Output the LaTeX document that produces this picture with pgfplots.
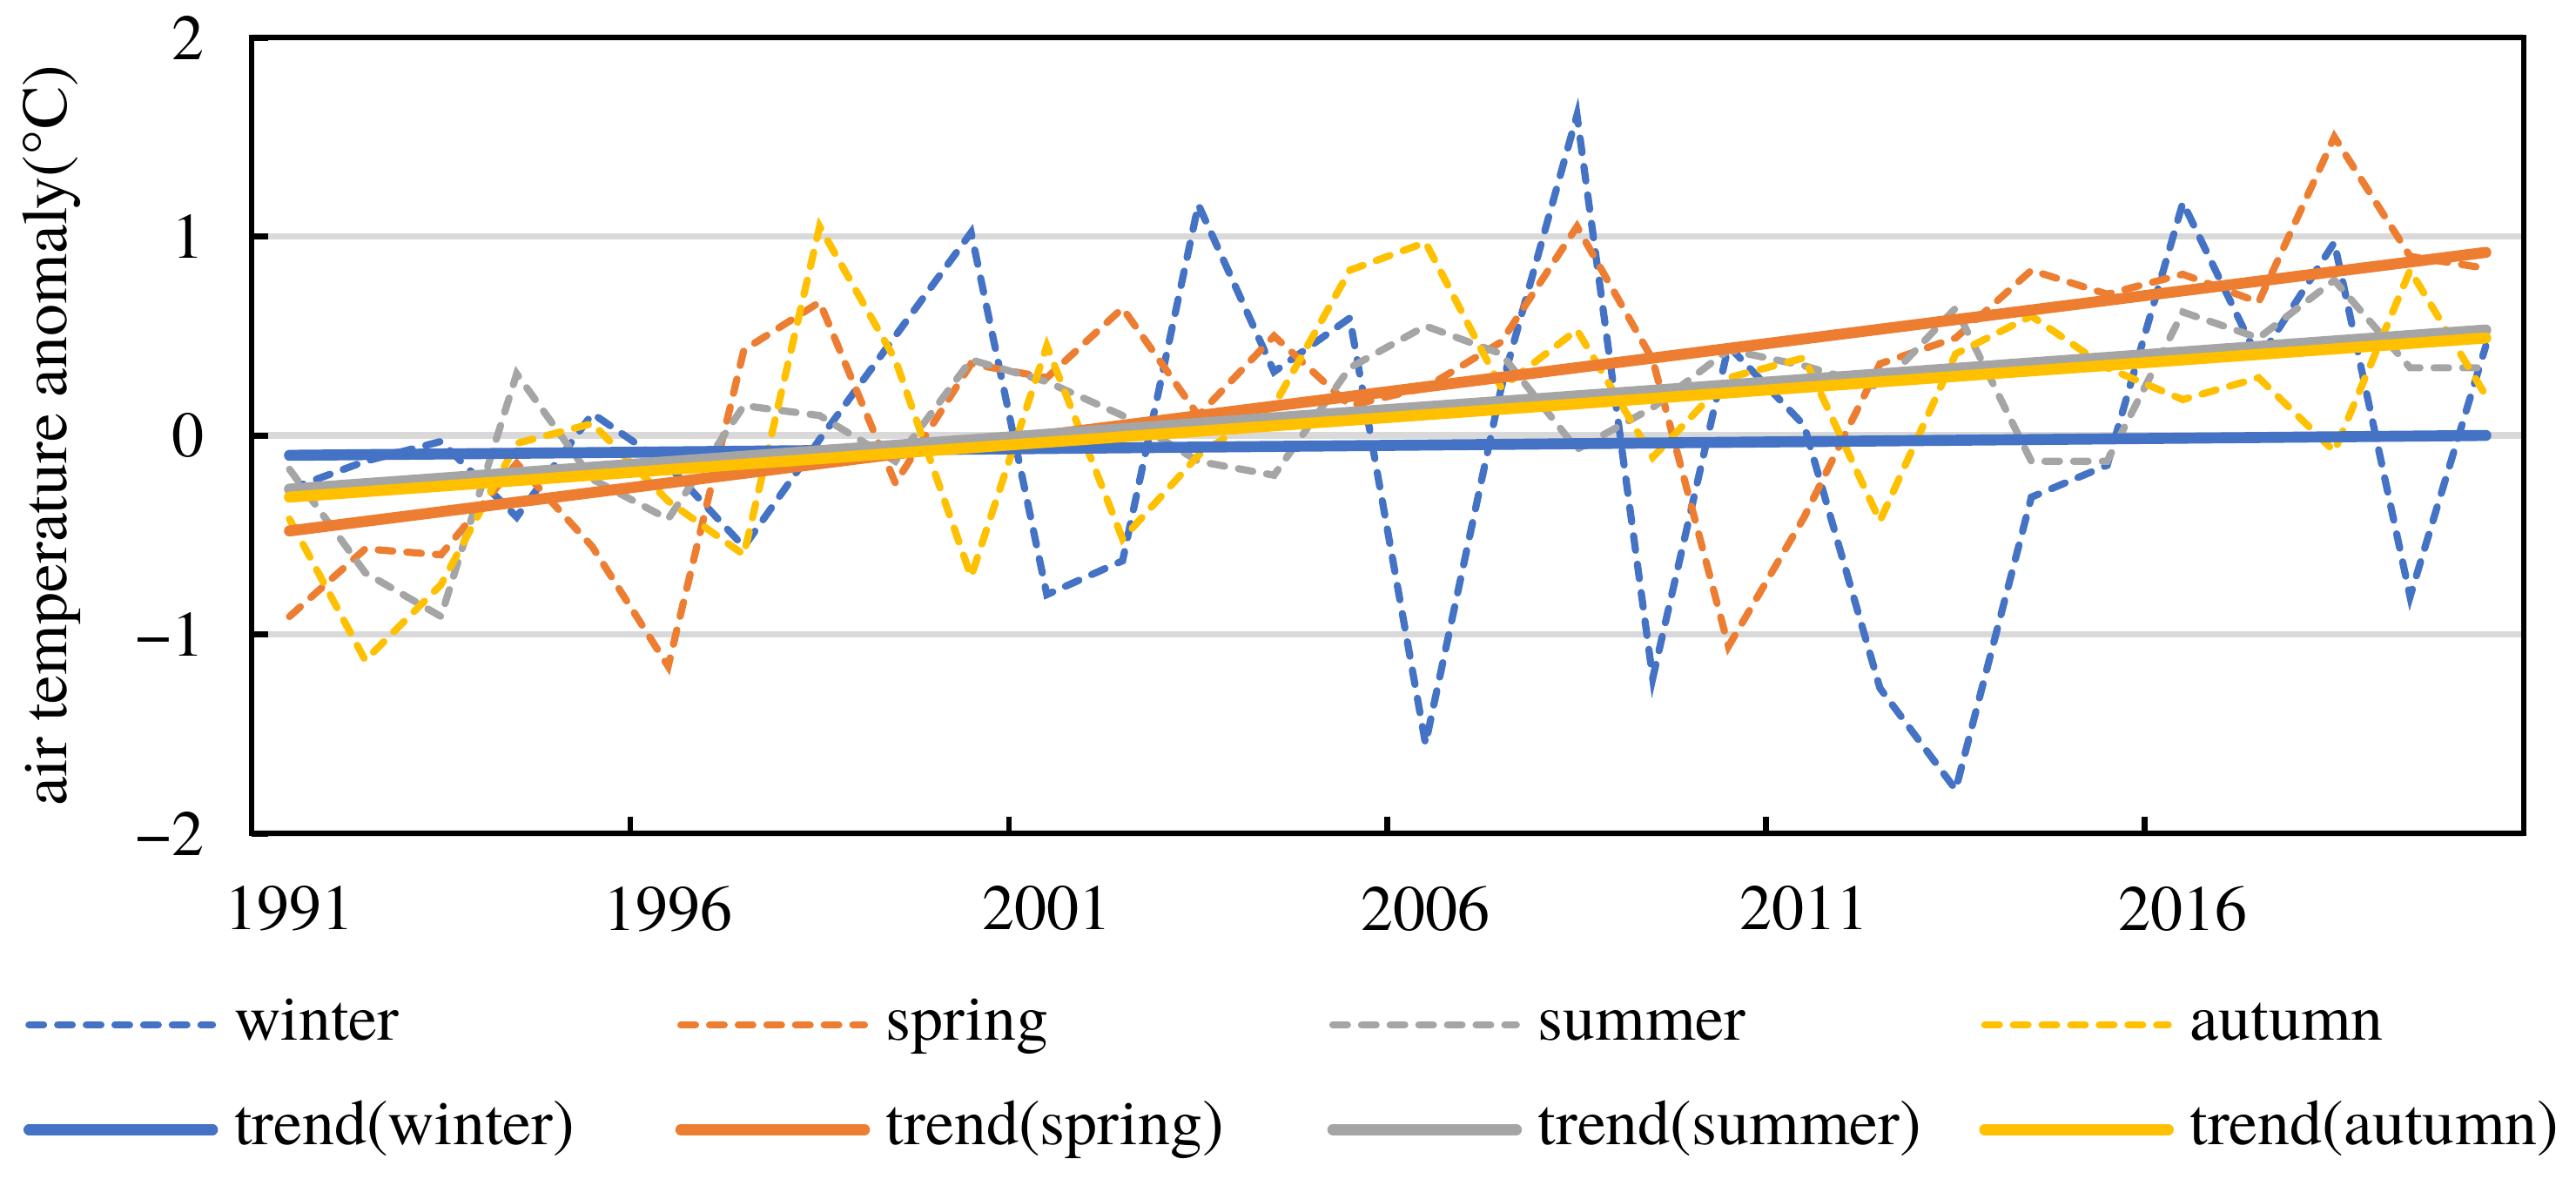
\documentclass[border=0pt]{standalone}
\usepackage{fontspec}
\setmainfont{texgyretermes}[Extension=.otf, UprightFont=*-regular, BoldFont=*-bold, ItalicFont=*-italic, BoldItalicFont=*-bolditalic]
\usepackage{pgfplots}
\usepackage{pgfplotstable}
\pgfplotsset{compat=1.18}

\definecolor{cwin}{HTML}{4472C4}
\definecolor{cspr}{HTML}{ED7D31}
\definecolor{csum}{HTML}{A5A5A5}
\definecolor{caut}{HTML}{FFC000}
\definecolor{cgrid}{HTML}{D9D9D9}

% seasonal air temperature anomaly (degC)
\pgfplotstableread{
year winter spring summer autumn
1991 -0.27 -0.91 -0.17 -0.42
1992 -0.13 -0.57 -0.69 -1.13
1993 -0.03 -0.60 -0.91 -0.75
1994 -0.41 -0.14  0.31 -0.04
1995  0.11 -0.56 -0.22  0.06
1996 -0.15 -1.16 -0.42 -0.33
1997 -0.56  0.43  0.15 -0.60
1998 -0.02  0.67  0.10  1.05
1999  0.50 -0.24 -0.13  0.38
2000  1.02  0.36  0.38 -0.71
2001 -0.80  0.29  0.27  0.45
2002 -0.63  0.64  0.10 -0.52
2003  1.16  0.10 -0.13 -0.10
2004  0.32  0.50 -0.20  0.15
2005  0.59  0.15  0.34  0.83
2006 -1.55  0.24  0.55  0.97
2007  0.24  0.47  0.41  0.24
2008  1.61  1.05 -0.07  0.53
2009 -1.22  0.38  0.14 -0.11
2010  0.45 -1.06  0.43  0.29
2011  0.05 -0.41  0.35  0.39
2012 -1.27  0.36  0.24 -0.43
2013 -1.78  0.49  0.64  0.41
2014 -0.31  0.83 -0.13  0.60
2015 -0.15  0.71 -0.13  0.34
2016  1.17  0.81  0.62  0.18
2017  0.38  0.67  0.49  0.29
2018  0.97  1.50  0.78 -0.08
2019 -0.81  0.90  0.34  0.83
2020  0.45  0.84  0.34  0.20
}\anom

\pgfplotsset{
    season/.style={line width=1.3pt, line cap=round, dash pattern=on 2.65pt off 2.55pt},
    trendline/.style={line width=2pt, line cap=round},
}

\newcommand{\lgd}[1]{\makebox[83pt][l]{\hspace{2.95pt}#1}}

\begin{document}
\fontsize{11.7}{14}\selectfont
\begin{tikzpicture}
    \begin{axis}[
        scale only axis,
        width=412.3pt, height=144.4pt,
        xmin=1990.5, xmax=2020.5,
        ymin=-2, ymax=2,
        axis line style={line width=1.05pt},
        tick pos=left,
        tick align=inside,
        major tick length=3pt,
        tick style={black, line width=1.1pt},
        xtick={1995.5,2000.5,2005.5,2010.5,2015.5},
        xticklabels={},
        extra x ticks={1991,1996,2001,2006,2011,2016},
        extra x tick labels={1991,1996,2001,2006,2011,2016},
        extra x tick style={xtick style={draw=none}},
        xticklabel style={yshift=-5.5pt},
        ytick={-2,-1,0,1,2},
        yticklabels={−2,−1,0,1,2},
        yticklabel style={xshift=-4.5pt},
        ymajorgrids,
        grid style={cgrid, line width=1.2pt},
        ylabel={air temperature anomaly(°C)},
        ylabel style={at={(axis description cs:-0.0880,0.5)}, anchor=center},
        legend columns=4,
        legend cell align=left,
        legend image code/.code={\draw[#1] (0pt,0pt) -- (33.3pt,0pt);},
        legend style={draw=none, fill=none, inner sep=0pt, outer sep=0pt,
            at={(axis description cs:-0.1004,-0.2008)}, anchor=north west,
            row sep=7.5pt,
            nodes={inner sep=0pt, text height=8.5pt, text depth=3pt},
            /tikz/every even column/.append style={column sep=0pt}},
        legend entries={\lgd{winter},\lgd{spring},\lgd{summer},\lgd{autumn},
            \lgd{trend(winter)},\lgd{trend(spring)},\lgd{trend(summer)},\lgd{trend(autumn)}},
    ]
        \addplot[season, cwin] table[x=year, y=winter] {\anom};
        \addplot[season, cspr] table[x=year, y=spring] {\anom};
        \addplot[season, csum] table[x=year, y=summer] {\anom};
        \addplot[season, caut] table[x=year, y=autumn] {\anom};
        \addplot[trendline, cwin] coordinates {(1991,-0.10) (2020,0.00)};
        \addplot[trendline, cspr] coordinates {(1991,-0.48) (2020,0.92)};
        \addplot[trendline, csum] coordinates {(1991,-0.27) (2020,0.53)};
        \addplot[trendline, caut] coordinates {(1991,-0.31) (2020,0.49)};
    \end{axis}
    \pgfresetboundingbox
    \path (-45.66pt,-62.56pt) rectangle (421.8pt,151.2pt);
\end{tikzpicture}
\end{document}
